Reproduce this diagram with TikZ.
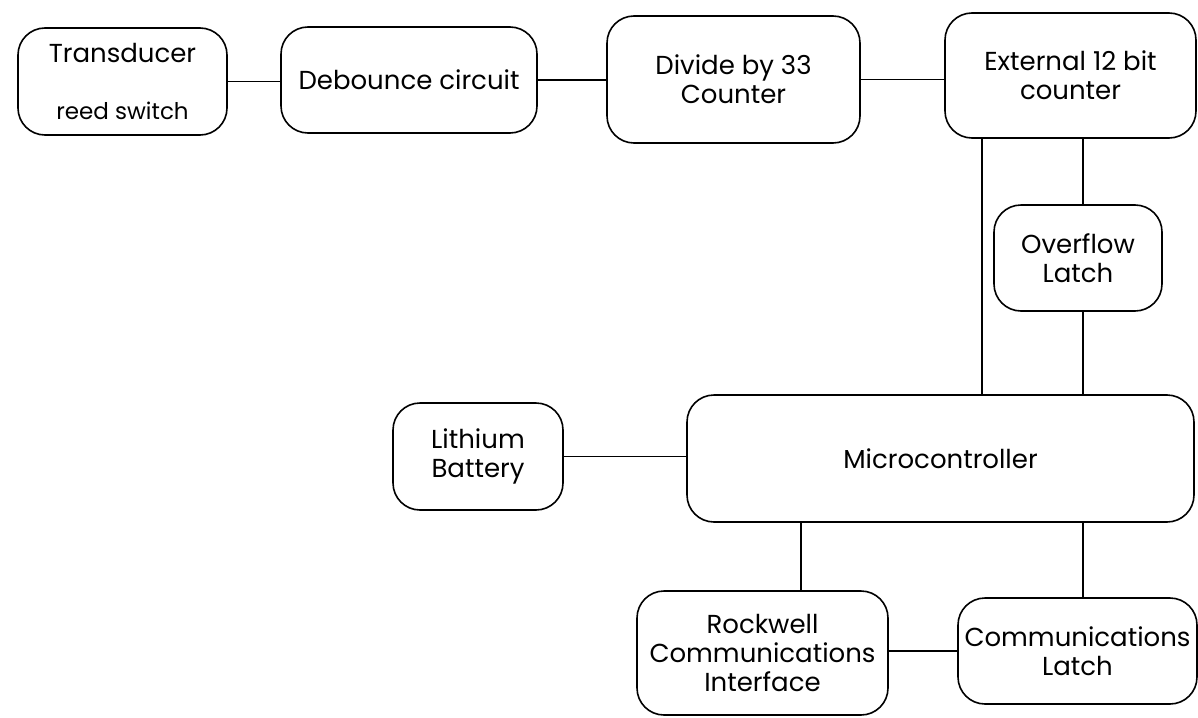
\documentclass[tikz,border=0pt]{standalone}
\usepackage{fontspec}
\setmainfont{Poppins}
\begin{document}
\begin{tikzpicture}[x=1pt,y=-1pt,
  box/.style={draw, line width=1.6pt, rounded corners=27pt, inner sep=0pt, align=center,
    font=\fontsize{26}{29}\selectfont},
  conn/.style={line width=1.6pt}]
\useasboundingbox (0,0) rectangle (1198,717);
\node[box, minimum width=209pt, minimum height=107pt] (T) at (122.5,81.5)
  {\fontsize{26}{26}\selectfont Transducer\\[28pt]\fontsize{23}{23}\selectfont reed switch};
\node[box, minimum width=256pt, minimum height=106pt] (D) at (409,80) {Debounce circuit};
\node[box, minimum width=253pt, minimum height=127pt] (V) at (733.5,79.5) {Divide by 33\\Counter};
\node[box, minimum width=251pt, minimum height=125pt] (E) at (1070.5,75.5) {External 12 bit\\counter};
\node[box, minimum width=168pt, minimum height=106pt] (O) at (1078,258) {Overflow\\Latch};
\node[box, minimum width=507pt, minimum height=127pt] (M) at (940.5,458.5) {Microcontroller};
\node[box, minimum width=170pt, minimum height=107pt] (B) at (478,456.5) {Lithium\\Battery};
\node[box, minimum width=251pt, minimum height=124pt] (R) at (762.5,653) {Rockwell\\Communications\\Interface};
\node[box, minimum width=239pt, minimum height=106pt] (L) at (1077.5,651) {Communications\\Latch};
\coordinate (xa) at (982,0);
\coordinate (xb) at (1083,0);
\coordinate (xc) at (801,0);
\draw[conn] (T.east) -- (T.east -| D.west);
\draw[conn] (D.east) -- (D.east -| V.west);
\draw[conn] (V.east) -- (V.east -| E.west);
\draw[conn] (E.south -| xa) -- (M.north -| xa);
\draw[conn] (E.south -| xb) -- (O.north -| xb);
\draw[conn] (O.south -| xb) -- (M.north -| xb);
\draw[conn] (B.east) -- (B.east -| M.west);
\draw[conn] (M.south -| xc) -- (R.north -| xc);
\draw[conn] (M.south -| xb) -- (L.north -| xb);
\draw[conn] (L.west -| R.east) -- (L.west);
\end{tikzpicture}
\end{document}
